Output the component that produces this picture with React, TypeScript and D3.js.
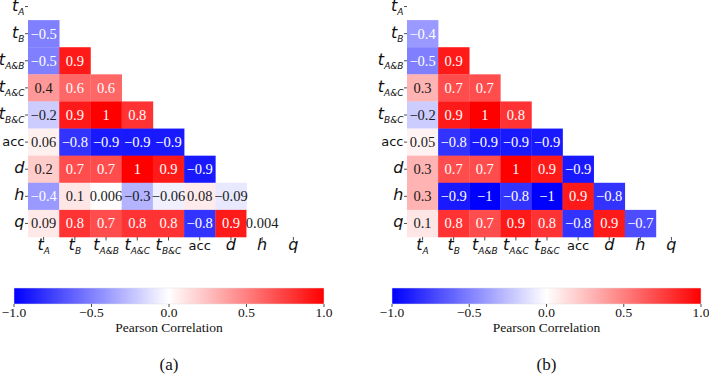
import React from "react";
import * as d3 from "d3";

// variable names, "t_A&B" style = base + subscript
const variables = ["t_A", "t_B", "t_A&B", "t_A&C", "t_B&C", "acc", "d", "h", "q"];

// lower triangle of the correlation matrix, row i holds columns 0..i-1
const corrA = [
  [],
  [-0.5],
  [-0.5, 0.9],
  [0.4, 0.6, 0.6],
  [-0.2, 0.9, 1, 0.8],
  [0.06, -0.8, -0.9, -0.9, -0.9],
  [0.2, 0.7, 0.7, 1, 0.9, -0.9],
  [-0.4, 0.1, 0.006, -0.3, -0.06, 0.08, -0.09],
  [0.09, 0.8, 0.7, 0.8, 0.8, -0.8, 0.9, 0.004],
];

const corrB = [
  [],
  [-0.4],
  [-0.5, 0.9],
  [0.3, 0.7, 0.7],
  [-0.2, 0.9, 1, 0.8],
  [0.05, -0.8, -0.9, -0.9, -0.9],
  [0.3, 0.7, 0.7, 1, 0.9, -0.9],
  [0.3, -0.9, -1, -0.8, -1, 0.9, -0.8],
  [0.1, 0.8, 0.7, 0.9, 0.8, -0.8, 0.9, -0.7],
];

const colorTicks = [-1, -0.5, 0, 0.5, 1];

// blue - white - red
const bwr = d3
  .scaleLinear<string>()
  .domain([-1, 0, 1])
  .range(["#0000ff", "#ffffff", "#ff0000"])
  .interpolate(d3.interpolateRgb)
  .clamp(true);

const fmtCell = d3.format(".1~g");
const fmtTick = d3.format(".1f");

function textColor(v: number) {
  const c = d3.rgb(bwr(v));
  const lin = (x: number) => {
    const s = x / 255;
    return s <= 0.03928 ? s / 12.92 : Math.pow((s + 0.055) / 1.055, 2.4);
  };
  const lum = 0.2126 * lin(c.r) + 0.7152 * lin(c.g) + 0.0722 * lin(c.b);
  return lum > 0.408 ? "#1a1a1a" : "#ffffff";
}

const sans = { fontFamily: "'DejaVu Sans', sans-serif" };
const serif = { fontFamily: "'Liberation Serif', 'Times New Roman', serif" };

function VarLabel({ name, x, y, anchor }: { name: string; x: number; y: number; anchor: string }) {
  if (name === "acc") {
    return (
      <text x={x} y={y - 0.5} textAnchor={anchor} style={sans} fontSize={13} fill="#111">
        acc
      </text>
    );
  }
  const [base, sub] = name.split("_");
  return (
    <text x={x} y={y} textAnchor={anchor} style={sans} fontStyle="italic" fontSize={16} fill="#111">
      {base}
      {sub && (
        <tspan dy={4} fontSize={9}>
          {sub}
        </tspan>
      )}
    </text>
  );
}

function Panel({ data, x0, x1, cbX0, cbX1, caption, id }: {
  data: number[][]; x0: number; x1: number; cbX0: number; cbX1: number; caption: string; id: string;
}) {
  const x = d3.scaleBand().domain(variables).range([x0, x1]);
  const y = d3.scaleBand().domain(variables).range([-7, 237]);
  const cb = d3.scaleLinear().domain([-1, 1]).range([cbX0, cbX1]);
  const cbTop = 288;
  const cbH = 16;

  const cells = data.flatMap((row, i) =>
    row.map((v, j) => ({ v, r: variables[i], c: variables[j] }))
  );

  return (
    <g>
      {cells.map((d, k) => (
        <rect
          key={"r" + k}
          x={x(d.c)!}
          y={y(d.r)!}
          width={x.bandwidth() + 0.3}
          height={y.bandwidth() + 0.3}
          fill={bwr(d.v)}
        />
      ))}
      {cells.map((d, k) => (
        <text
          key={"t" + k}
          x={x(d.c)! + x.bandwidth() / 2}
          y={y(d.r)! + y.bandwidth() / 2 + 5}
          textAnchor="middle"
          style={serif}
          fontSize={14.5}
          fill={textColor(d.v)}
        >
          {fmtCell(d.v)}
        </text>
      ))}

      {/* y axis */}
      {variables.map((v) => {
        const cy = y(v)! + y.bandwidth() / 2;
        return (
          <g key={"y" + v}>
            <line x1={x0 - 3} x2={x0} y1={cy} y2={cy} stroke="#222" strokeWidth={0.8} />
            <VarLabel name={v} x={x0 - 3.5} y={cy + 4} anchor="end" />
          </g>
        );
      })}

      {/* x axis */}
      {variables.map((v) => {
        const cx = x(v)! + x.bandwidth() / 2;
        return (
          <g key={"x" + v}>
            <line x1={cx} x2={cx} y1={237} y2={240.5} stroke="#222" strokeWidth={0.8} />
            <VarLabel name={v} x={cx} y={250} anchor="middle" />
          </g>
        );
      })}

      {/* colour bar */}
      <defs>
        <linearGradient id={id} x1="0" x2="1" y1="0" y2="0">
          {d3.range(0, 1.0001, 0.05).map((t) => (
            <stop key={t} offset={t} stopColor={bwr(t * 2 - 1)} />
          ))}
        </linearGradient>
      </defs>
      <rect x={cbX0} y={cbTop} width={cbX1 - cbX0} height={cbH} fill={`url(#${id})`} stroke="#ddd" strokeWidth={0.5} />
      {colorTicks.map((t) => (
        <g key={"c" + t}>
          <line x1={cb(t)} x2={cb(t)} y1={cbTop + cbH} y2={cbTop + cbH + 3} stroke="#222" strokeWidth={0.8} />
          <text x={cb(t)} y={cbTop + cbH + 13} textAnchor="middle" style={serif} fontSize={13.5} fill="#111">
            {fmtTick(t)}
          </text>
        </g>
      ))}
      <text x={(cbX0 + cbX1) / 2} y={332} textAnchor="middle" style={serif} fontSize={13.5} fill="#111">
        Pearson Correlation
      </text>
      <text x={(cbX0 + cbX1) / 2} y={370} textAnchor="middle" style={serif} fontSize={17} fill="#111">
        {caption}
      </text>
    </g>
  );
}

export default function App() {
  return (
    <svg
      width={709}
      height={382}
      style={{ position: "absolute", left: 0, top: 0, background: "#fff" }}
    >
      <Panel data={corrA} x0={28} x1={309} cbX0={14} cbX1={324} caption="(a)" id="cbA" />
      <Panel data={corrB} x0={407} x1={687} cbX0={392} cbX1={701} caption="(b)" id="cbB" />
    </svg>
  );
}
